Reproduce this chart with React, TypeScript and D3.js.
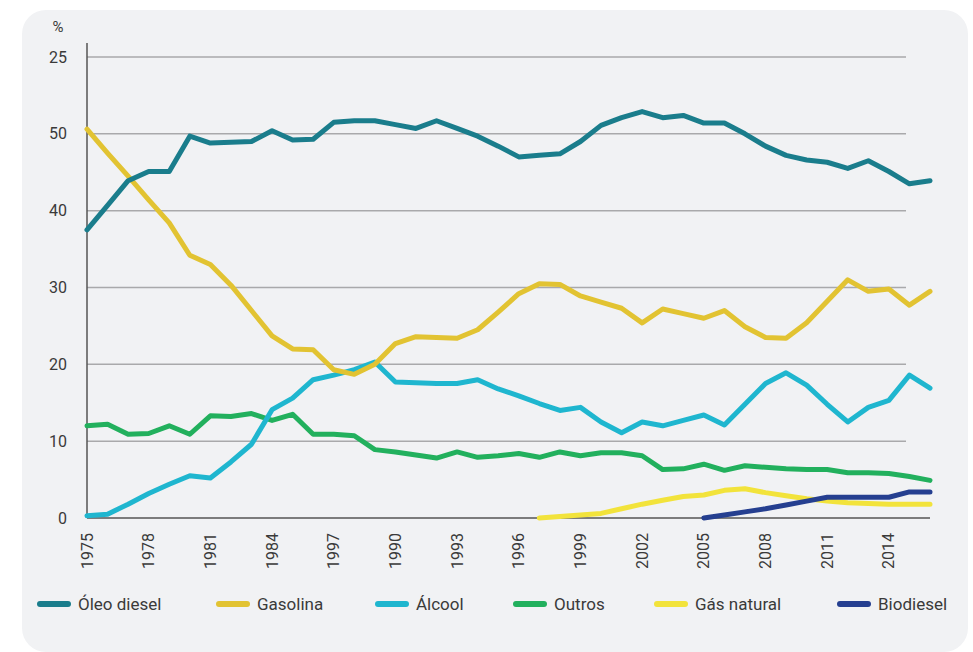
import React from "react";
import * as d3 from "d3";

// anos 1975..2016
const years = d3.range(1975, 2017);

const oleoDiesel = [
  37.5, 40.7, 43.9, 45.1, 45.1, 49.7, 48.8, 48.9, 49.0, 50.4, 49.2, 49.3, 51.5, 51.7,
  51.7, 51.2, 50.7, 51.7, 50.7, 49.7, 48.4, 47.0, 47.2, 47.4, 49.0, 51.1, 52.1, 52.9,
  52.1, 52.4, 51.4, 51.4, 50.0, 48.4, 47.2, 46.6, 46.3, 45.5, 46.5, 45.1, 43.5, 43.9,
];
const gasolina = [
  50.6, 47.5, 44.5, 41.4, 38.4, 34.2, 33.0, 30.3, 27.0, 23.7, 22.0, 21.9, 19.3, 18.7,
  20.0, 22.7, 23.6, 23.5, 23.4, 24.5, 26.8, 29.2, 30.5, 30.4, 28.9, 28.1, 27.3, 25.4,
  27.2, 26.6, 26.0, 27.0, 24.9, 23.5, 23.4, 25.4, 28.2, 31.0, 29.5, 29.8, 27.7, 29.5,
];
const alcool = [
  0.3, 0.5, 1.8, 3.2, 4.4, 5.5, 5.2, 7.3, 9.6, 14.1, 15.6, 18.0, 18.6, 19.3,
  20.3, 17.7, 17.6, 17.5, 17.5, 18.0, 16.8, 15.9, 14.9, 14.0, 14.4, 12.5, 11.1, 12.5,
  12.0, 12.7, 13.4, 12.1, 14.8, 17.5, 18.9, 17.3, 14.8, 12.5, 14.4, 15.3, 18.6, 16.9,
];
const outros = [
  12.0, 12.2, 10.9, 11.0, 12.0, 10.9, 13.3, 13.2, 13.6, 12.7, 13.5, 10.9, 10.9, 10.7,
  8.9, 8.6, 8.2, 7.8, 8.6, 7.9, 8.1, 8.4, 7.9, 8.6, 8.1, 8.5, 8.5, 8.1,
  6.3, 6.4, 7.0, 6.2, 6.8, 6.6, 6.4, 6.3, 6.3, 5.9, 5.9, 5.8, 5.4, 4.9,
];
// gás natural a partir de 1997
const gasNaturalYears = d3.range(1997, 2017);
const gasNatural = [
  0.0, 0.2, 0.4, 0.6, 1.2, 1.8, 2.3, 2.8, 3.0, 3.6, 3.8, 3.3, 2.9, 2.5, 2.2, 2.0, 1.9, 1.8, 1.8, 1.8,
];
// biodiesel a partir de 2005
const biodieselYears = d3.range(2005, 2017);
const biodiesel = [0.0, 0.4, 0.8, 1.2, 1.7, 2.2, 2.7, 2.7, 2.7, 2.7, 3.4, 3.4];

const yTickValues = [0, 10, 20, 30, 40, 50, 60];
const yTickLabels = ["0", "10", "20", "30", "40", "50", "25"];
const xTickYears = [1975, 1978, 1981, 1984, 1987, 1990, 1993, 1996, 1999, 2002, 2005, 2008, 2011, 2014];
const xTickLabels = ["1975", "1978", "1981", "1984", "1997", "1990", "1993", "1996", "1999", "2002", "2005", "2008", "2011", "2014"];

const seriesNames = ["Óleo diesel", "Gasolina", "Álcool", "Outros", "Gás natural", "Biodiesel"];
const seriesColors = ["#1a7d8c", "#e2c332", "#1fb6cf", "#22b05d", "#f2e33b", "#253f90"];
const legendX = [38, 217, 376, 514, 655, 838];

const font = "Roboto, 'DejaVu Sans', sans-serif";

const App: React.FC = () => {
  const width = 973;
  const height = 652;

  const x = d3.scaleLinear().domain([1975, 2016]).range([87, 930]);
  const y = d3.scaleLinear().domain([0, 60]).range([518, 57]);

  const line = d3
    .line<[number, number]>()
    .x((d) => x(d[0]))
    .y((d) => y(d[1]));

  const series = [
    { yrs: years, vals: oleoDiesel },
    { yrs: years, vals: gasolina },
    { yrs: years, vals: alcool },
    { yrs: years, vals: outros },
    { yrs: gasNaturalYears, vals: gasNatural },
    { yrs: biodieselYears, vals: biodiesel },
  ];

  // ordem de desenho parecida com a original
  const drawOrder = [4, 5, 3, 2, 1, 0];

  return (
    <svg
      width={width}
      height={height}
      style={{ position: "absolute", left: 0, top: 0, background: "#fff" }}
    >
      <rect x={22} y={10} width={946} height={642} rx={24} fill="#f1f2f4" />

      {/* grade */}
      {yTickValues.map((v, i) =>
        v === 0 ? null : (
          <line key={"g" + i} x1={x(1975)} x2={906} y1={y(v)} y2={y(v)} stroke="#a9a9ab" strokeWidth={1.5} />
        )
      )}

      {/* eixos */}
      <line x1={x(1975)} x2={x(1975)} y1={43} y2={y(0)} stroke="#555" strokeWidth={1.5} />
      <line x1={x(1975)} x2={x(2016)} y1={y(0)} y2={y(0)} stroke="#555" strokeWidth={1.5} />

      {yTickValues.map((v, i) => (
        <text
          key={"yt" + i}
          x={67}
          y={y(v)}
          textAnchor="end"
          dominantBaseline="central"
          fontFamily={font}
          fontSize={16}
          fill="#3a3a3a"
        >
          {yTickLabels[i]}
        </text>
      ))}
      <text x={58} y={27} textAnchor="middle" dominantBaseline="central" fontFamily={font} fontSize={15} fill="#3a3a3a">
        %
      </text>

      {xTickYears.map((yr, i) => (
        <text
          key={"xt" + i}
          transform={`translate(${x(yr)},533) rotate(-90)`}
          textAnchor="end"
          dominantBaseline="central"
          fontFamily={font}
          fontSize={16}
          fill="#3a3a3a"
        >
          {xTickLabels[i]}
        </text>
      ))}

      {/* linhas */}
      {drawOrder.map((k) => {
        const s = series[k];
        const pts = s.yrs.map((yr, i) => [yr, s.vals[i]] as [number, number]);
        return (
          <path
            key={"s" + k}
            d={line(pts) || ""}
            fill="none"
            stroke={seriesColors[k]}
            strokeWidth={5}
            strokeLinejoin="round"
            strokeLinecap="round"
          />
        );
      })}

      {/* legenda */}
      {seriesNames.map((name, i) => (
        <g key={"l" + i} transform={`translate(${legendX[i]},604)`}>
          <line x1={2} x2={30} y1={0} y2={0} stroke={seriesColors[i]} strokeWidth={6} strokeLinecap="round" />
          <text x={40} y={0} dominantBaseline="central" fontFamily={font} fontSize={17} fill="#3a3a3a">
            {name}
          </text>
        </g>
      ))}
    </svg>
  );
};

export default App;
